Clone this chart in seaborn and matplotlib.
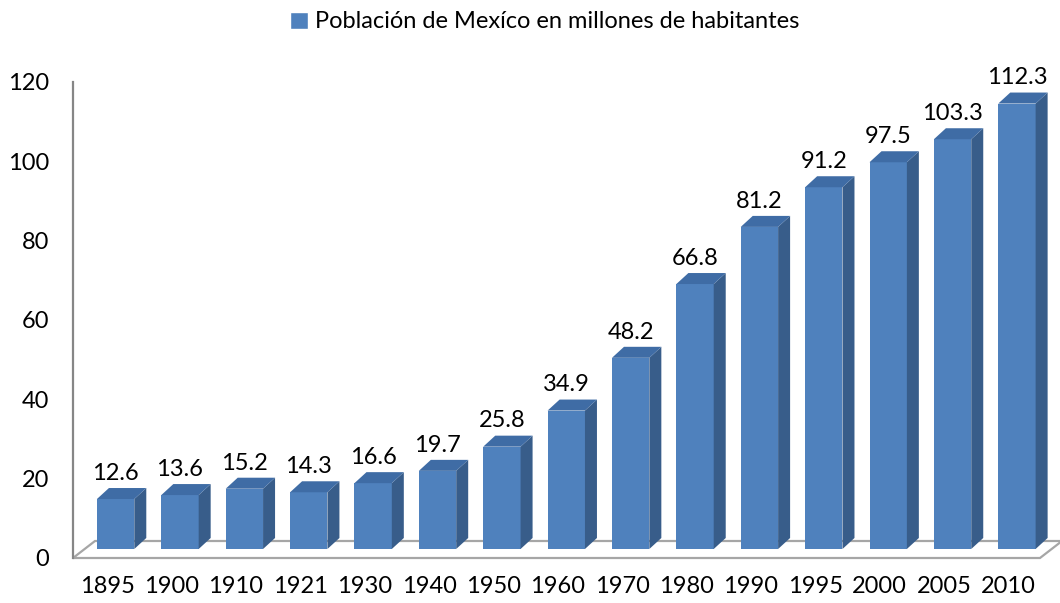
import matplotlib
matplotlib.use('Agg')
import matplotlib.pyplot as plt
from matplotlib.patches import Polygon, Patch
from matplotlib.transforms import ScaledTranslation
import seaborn as sns
import pandas as pd

# datos
anios = ['1895', '1900', '1910', '1921', '1930', '1940', '1950', '1960',
         '1970', '1980', '1990', '1995', '2000', '2005', '2010']
poblacion = [12.6, 13.6, 15.2, 14.3, 16.6, 19.7, 25.8, 34.9,
             48.2, 66.8, 81.2, 91.2, 97.5, 103.3, 112.3]
yticks = [0, 20, 40, 60, 80, 100, 120]
leyenda = 'Población de Mexíco en millones de habitantes'

# colores estilo Excel 3D
frente = '#4F81BD'
lado = '#385D8A'
tapa = '#3F6CA5'
gris_eje = '#868686'
gris_piso = '#A6A6A6'

sns.set_style('white')
plt.rcParams['font.family'] = ['Lato', 'DejaVu Sans']
plt.rcParams['text.color'] = 'black'
plt.rcParams['xtick.color'] = 'black'
plt.rcParams['ytick.color'] = 'black'
fs = 17

df = pd.DataFrame({'anio': anios, 'poblacion': poblacion})

fig = plt.figure(figsize=(10.6, 6.03), dpi=100)
ax = fig.add_axes([73 / 1060, 45 / 603, 967 / 1060, 476 / 603])

sns.barplot(data=df, x='anio', y='poblacion', color=frente, saturation=1,
            width=0.58, linewidth=0, ax=ax, zorder=3)

x_min, x_max = -0.53, 14.49
ax.set_xlim(x_min, x_max)
ax.set_ylim(0, 120)

# pixeles por unidad (para la profundidad 3D)
px_x = 967 / (x_max - x_min)
px_y = 476 / 120

# barras desplazadas a media profundidad
shift = ax.transData + ScaledTranslation(8.5 / 100, 9 / 100, fig.dpi_scale_trans)
dx, dy = 12 / px_x, 11 / px_y

for p in ax.patches:
    p.set_transform(shift)
    x0, w, h = p.get_x(), p.get_width(), p.get_height()
    x1 = x0 + w
    side = Polygon([(x1, 0), (x1 + dx, dy), (x1 + dx, h + dy), (x1, h)],
                   closed=True, facecolor=lado, edgecolor='none',
                   transform=shift, zorder=3, clip_on=False)
    top = Polygon([(x0, h), (x0 + dx, h + dy), (x1 + dx, h + dy), (x1, h)],
                  closed=True, facecolor=tapa, edgecolor='none',
                  transform=shift, zorder=3, clip_on=False)
    ax.add_patch(side)
    ax.add_patch(top)

# piso
fdx, fdy = 22 / px_x, 17 / px_y
piso = Polygon([(x_min, 0), (x_max, 0), (x_max + fdx, fdy), (x_min + fdx, fdy)],
               closed=True, facecolor='none', edgecolor=gris_piso, linewidth=1.6,
               zorder=1, clip_on=False)
ax.add_patch(piso)

# etiquetas de valores
for i, v in enumerate(poblacion):
    ax.annotate(f'{v:.1f}', (i, v), xycoords=shift, xytext=(0, 18.5),
                textcoords='offset points', ha='center', va='center', fontsize=fs)

# ejes
for s in ['top', 'right', 'bottom']:
    ax.spines[s].set_visible(False)
ax.spines['left'].set_color(gris_eje)
ax.spines['left'].set_linewidth(1.6)
ax.set_yticks(yticks)
ax.tick_params(axis='y', length=0, pad=17, labelsize=fs)
ax.tick_params(axis='x', length=0, pad=13, labelsize=fs)
ax.set_xlabel('')
ax.set_ylabel('')

fig.legend(handles=[Patch(facecolor=frente, label=leyenda)], loc='center',
           bbox_to_anchor=(545 / 1060, 1 - 22 / 603), frameon=False, fontsize=fs,
           handlelength=0.75, handleheight=0.75, handletextpad=0.3)

fig.savefig('out.png', dpi=100)
